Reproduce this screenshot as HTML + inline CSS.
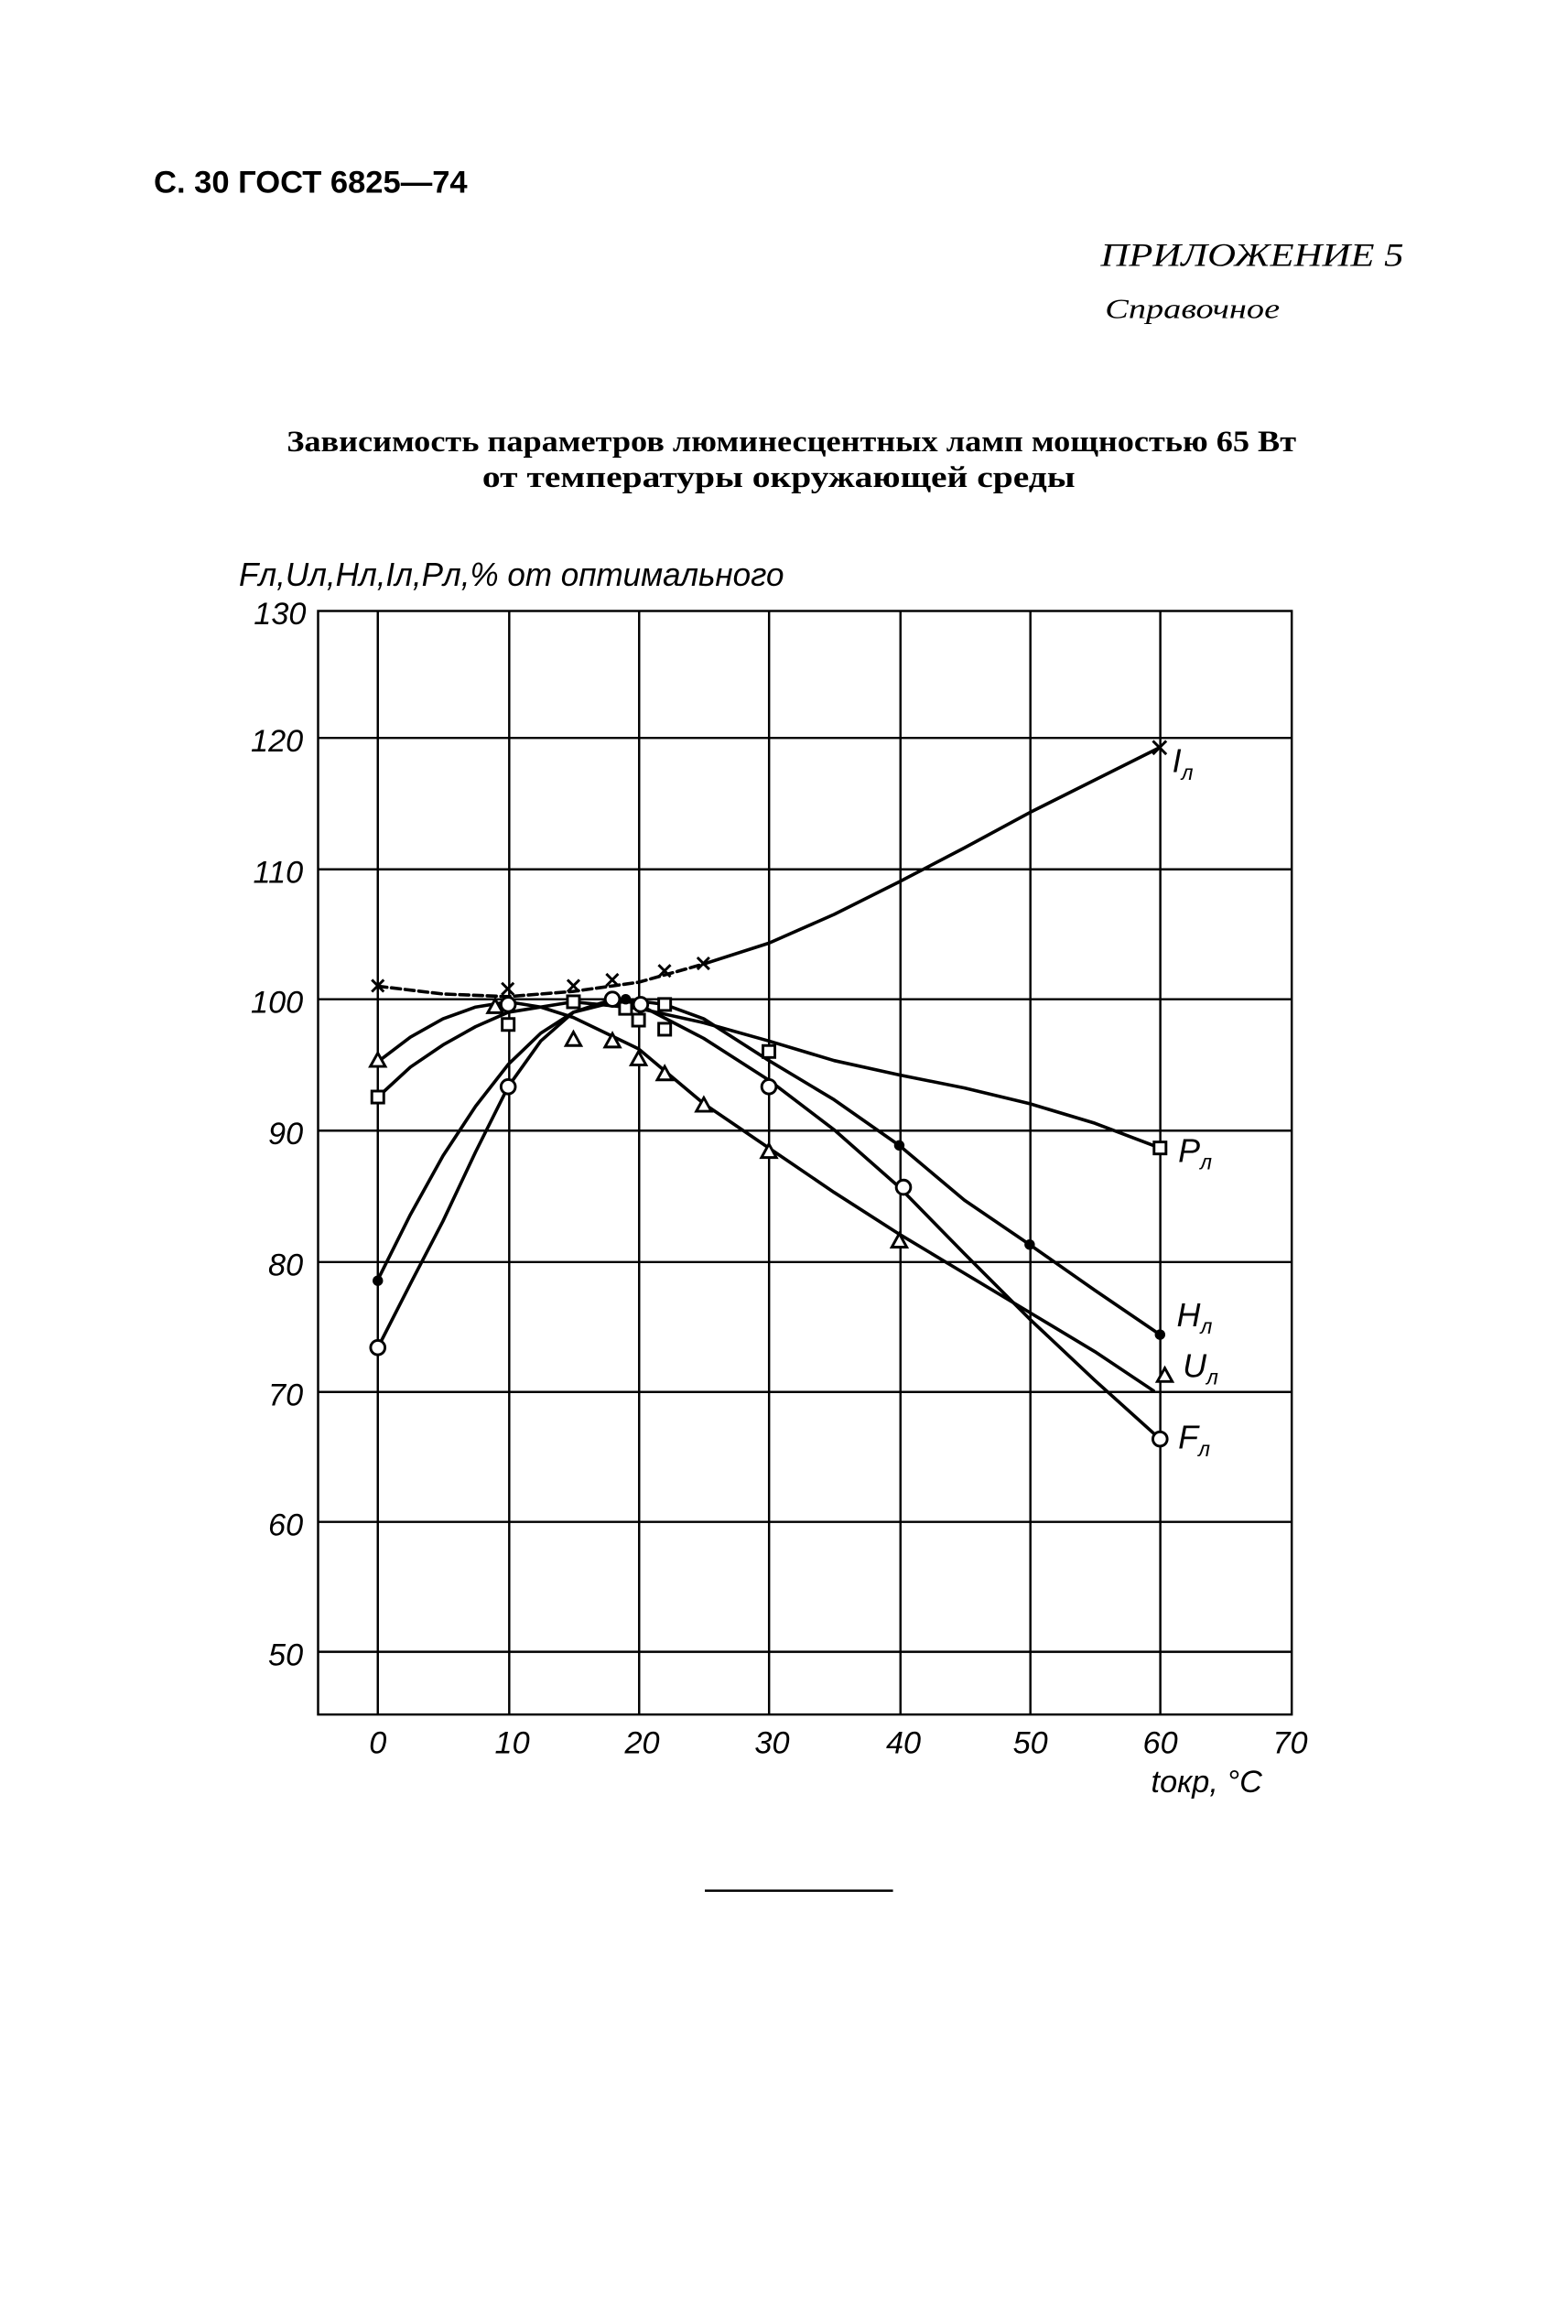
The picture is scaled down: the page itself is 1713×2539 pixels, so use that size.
<!DOCTYPE html>
<html><head><meta charset="utf-8"><style>html,body{margin:0;padding:0;background:#fff}svg{display:block}</style></head>
<body>
<svg width="1713" height="2539" viewBox="0 0 1050 1556" xmlns="http://www.w3.org/2000/svg" font-family="'Liberation Sans', sans-serif">
<rect width="1050" height="1556" fill="#fff"/>
<text x="103" y="129" font-size="21" font-weight="bold" textLength="210" lengthAdjust="spacingAndGlyphs">С. 30 ГОСТ 6825—74</text>
<text x="737" y="178" font-size="22" font-style="italic" font-family="'Liberation Serif', serif" textLength="203" lengthAdjust="spacingAndGlyphs">ПРИЛОЖЕНИЕ 5</text>
<text x="740" y="213" font-size="19" font-style="italic" font-family="'Liberation Serif', serif" textLength="117" lengthAdjust="spacingAndGlyphs">Справочное</text>
<text x="192" y="302" font-size="20" font-weight="bold" font-family="'Liberation Serif', serif" textLength="676" lengthAdjust="spacingAndGlyphs">Зависимость параметров люминесцентных ламп мощностью 65 Вт</text>
<text x="323" y="326" font-size="20" font-weight="bold" font-family="'Liberation Serif', serif" textLength="397" lengthAdjust="spacingAndGlyphs">от температуры окружающей среды</text>
<text x="160" y="392" font-size="22" font-style="italic" textLength="365" lengthAdjust="spacingAndGlyphs">Fл,Uл,Hл,Iл,Pл,% от оптимального</text>

<g stroke="#000" stroke-width="1.5" fill="none">
<rect x="213" y="409" width="652" height="739"/>
<line x1="253" y1="409" x2="253" y2="1148"/><line x1="341" y1="409" x2="341" y2="1148"/>
<line x1="428" y1="409" x2="428" y2="1148"/><line x1="515" y1="409" x2="515" y2="1148"/>
<line x1="603" y1="409" x2="603" y2="1148"/><line x1="690" y1="409" x2="690" y2="1148"/>
<line x1="777" y1="409" x2="777" y2="1148"/>
<line x1="213" y1="494" x2="865" y2="494"/><line x1="213" y1="582" x2="865" y2="582"/>
<line x1="213" y1="669" x2="865" y2="669"/><line x1="213" y1="757" x2="865" y2="757"/>
<line x1="213" y1="845" x2="865" y2="845"/><line x1="213" y1="932" x2="865" y2="932"/>
<line x1="213" y1="1019" x2="865" y2="1019"/><line x1="213" y1="1106" x2="865" y2="1106"/>
<line x1="472" y1="1266" x2="598" y2="1266"/>
</g>
<g font-size="21" font-style="italic" text-anchor="end">
<text x="205" y="418">130</text><text x="203" y="503">120</text><text x="203" y="591">110</text>
<text x="203" y="678">100</text><text x="203" y="766">90</text><text x="203" y="854">80</text>
<text x="203" y="941">70</text><text x="203" y="1028">60</text><text x="203" y="1115">50</text>
</g>
<g font-size="21" font-style="italic" text-anchor="middle">
<text x="253" y="1174">0</text><text x="343" y="1174">10</text><text x="430" y="1174">20</text>
<text x="517" y="1174">30</text><text x="605" y="1174">40</text><text x="690" y="1174">50</text>
<text x="777" y="1174">60</text><text x="864" y="1174">70</text>
<text x="808" y="1200">tокр, °С</text>
</g>

<g transform="translate(253,1543) scale(8.73,-8.74)" fill="none" stroke="#000" stroke-width="3.6" stroke-linejoin="round" stroke-linecap="round">
<polyline vector-effect="non-scaling-stroke" stroke-dasharray="10 5" points="0,101 5,100.4 10,100.2 15,100.6 20,101.3 25,102.7"/>
<polyline vector-effect="non-scaling-stroke" points="25,102.7 30,104.3 35,106.5 40,109 45,111.6 50,114.3 55,116.8 60,119.3"/>
<polyline vector-effect="non-scaling-stroke" points="0,92.5 2.5,94.8 5,96.5 7.5,97.9 10,99 15,99.8 20,99.3 25,98.2 30,96.8 35,95.3 40,94.2 45,93.2 50,92 55,90.5 60,88.6"/>
<polyline vector-effect="non-scaling-stroke" points="0,95.2 2.5,97.1 5,98.5 7.5,99.4 10,99.8 12.5,99.4 15,98.6 20,96.2 25,92 30,88.6 35,85.2 40,82 45,79 50,76 55,73 59.5,70"/>
<polyline vector-effect="non-scaling-stroke" points="0,78.5 2.5,83.5 5,88 7.5,91.8 10,95 12.5,97.4 15,99 19,100 22,99.6 25,98.5 30,95.3 35,92.3 40,88.8 45,84.6 50,81.2 55,77.7 60,74.3"/>
<polyline vector-effect="non-scaling-stroke" points="0,73.3 2.5,78.2 5,83 7.5,88.3 10,93.3 12.5,96.8 15,99 18,100 20,99.6 25,97 30,93.8 35,90 40,85.6 45,80.5 50,75.5 55,70.8 60,66.3"/>
</g>

<g stroke="#000" stroke-width="1.8" fill="#fff">
<g fill="none">
<path d="M249,656 l8,8 m0,-8 l-8,8"/><path d="M336,658 l8,8 m0,-8 l-8,8"/>
<path d="M380,656 l8,8 m0,-8 l-8,8"/><path d="M406,652 l8,8 m0,-8 l-8,8"/>
<path d="M441,646 l8,8 m0,-8 l-8,8"/><path d="M467,641 l8,8 m0,-8 l-8,8"/>
<path d="M772,496 l9,9 m0,-9 l-9,9"/>
</g>
<rect x="249" y="730.5" width="8" height="8"/><rect x="336.3" y="681.9" width="8" height="8"/>
<rect x="380" y="666.7" width="8" height="8"/><rect x="414.9" y="671.1" width="8" height="8"/>
<rect x="423.6" y="679" width="8" height="8"/><rect x="441.1" y="668.5" width="8" height="8"/>
<rect x="441.1" y="685.1" width="8" height="8"/><rect x="510.9" y="700" width="8" height="8"/>
<rect x="772.8" y="764.6" width="8" height="8"/>
<path d="M253,705 l5,9 h-10z"/><path d="M331.6,669 l5,9 h-10z"/>
<path d="M384,691 l5,9 h-10z"/><path d="M410.1,692 l5,9 h-10z"/>
<path d="M427.6,704 l5,9 h-10z"/><path d="M445.1,714 l5,9 h-10z"/>
<path d="M471.3,735 l5,9 h-10z"/><path d="M514.9,766 l5,9 h-10z"/>
<path d="M602.2,826 l5,9 h-10z"/><path d="M780,916 l5,9 h-10z"/>
<circle cx="253" cy="902.3" r="4.8"/><circle cx="340.3" cy="727.6" r="4.8"/>
<circle cx="340.3" cy="672.5" r="4.8"/><circle cx="410.1" cy="669" r="4.8"/>
<circle cx="429" cy="672.5" r="4.8"/><circle cx="514.9" cy="727.6" r="4.8"/>
<circle cx="605" cy="794.9" r="4.8"/><circle cx="776.8" cy="963.5" r="4.8"/>
</g>
<g fill="#000">
<circle cx="253" cy="857.5" r="3.5"/><circle cx="419" cy="669" r="3.5"/>
<circle cx="602.2" cy="766.9" r="3.5"/><circle cx="689.5" cy="833.3" r="3.5"/>
<circle cx="776.8" cy="893.6" r="3.5"/>
</g>
<g font-size="22" font-style="italic">
<text x="785" y="517">I<tspan font-size="14" dy="5">л</tspan></text>
<text x="789" y="778">P<tspan font-size="14" dy="5">л</tspan></text>
<text x="788" y="888">H<tspan font-size="14" dy="5">л</tspan></text>
<text x="792" y="922">U<tspan font-size="14" dy="5">л</tspan></text>
<text x="789" y="970">F<tspan font-size="14" dy="5">л</tspan></text>
</g>
</svg>
</body></html>
